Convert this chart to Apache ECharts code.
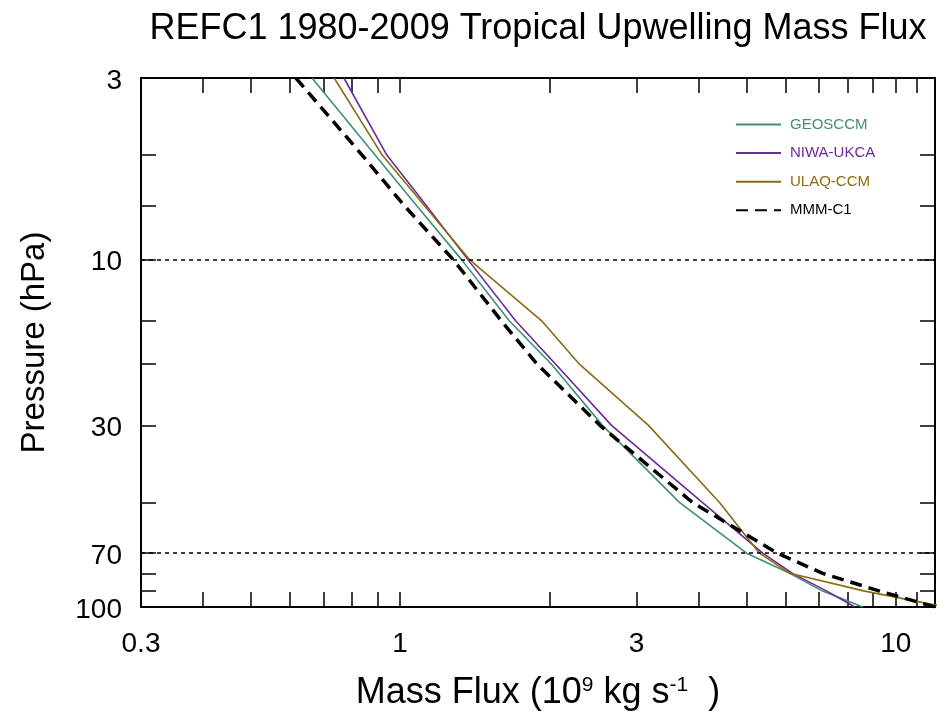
<!DOCTYPE html>
<html><head><meta charset="utf-8">
<script src="https://cdn.jsdelivr.net/npm/echarts@6/dist/echarts.min.js"></script>
<style>html,body{margin:0;padding:0;background:#fff}#c{width:939px;height:719px}</style>
</head><body><div id="c"></div>
<script>
var pressure = [3, 5, 7, 10, 15, 20, 30, 50, 70, 80, 90, 100];
var geosccm  = [0.664, 0.89, 1.08, 1.33, 1.66, 2.02, 2.56, 3.66, 5.00, 6.11, 7.12, 8.58];
var niwaukca = [0.77, 0.94, 1.13, 1.37, 1.71, 2.06, 2.67, 4.07, 5.39, 6.19, 7.26, 8.27];
var ulaqccm  = [0.736, 0.92, 1.12, 1.38, 1.93, 2.30, 3.17, 4.41, 5.31, 6.11, 8.66, 12.6];
var mmmc1    = [0.616, 0.838, 1.02, 1.28, 1.60, 1.89, 2.53, 3.89, 5.77, 7.12, 9.28, 12.0];
var xLabels = [0.3, 1, 3, 10];
var xTicks = [0.3, 0.4, 0.5, 0.6, 0.7, 0.8, 0.9, 1, 2, 3, 4, 5, 6, 7, 8, 9, 10, 11];
var yLabels = [3, 10, 30, 70, 100];
var yTicks = [3, 5, 7, 10, 15, 20, 30, 50, 70, 80, 90, 100];
var refLines = [10, 70];
var names = ['GEOSCCM', 'NIWA-UKCA', 'ULAQ-CCM', 'MMM-C1'];
var colors = ['#3f8f77', '#6a2a98', '#8c6a14', '#000000'];
var values = [geosccm, niwaukca, ulaqccm, mmmc1];

var FONT = 'Liberation Sans';
function pairs(v) { return v.map(function (x, i) { return [x, pressure[i]]; }); }

var series = values.map(function (v, i) {
  return {
    name: names[i], type: 'line', data: pairs(v), symbol: 'none', smooth: false,
    xAxisIndex: 0, yAxisIndex: 0, clip: true,
    lineStyle: { color: colors[i], width: i === 3 ? 3.5 : 1.6, type: i === 3 ? [12, 7] : 'solid' },
    itemStyle: { color: colors[i] }, z: i === 3 ? 4 : 3
  };
});
series[0].markLine = {
  silent: true, symbol: 'none', label: { show: false },
  lineStyle: { color: '#000', width: 1.6, type: [4, 4] },
  data: refLines.map(function (p) { return { yAxis: p }; })
};

function xAxisDef(pos, showLabel) {
  return {
    type: 'log', logBase: 10, min: 0.3, max: 12, position: pos,
    axisLine: { show: true, onZero: false, lineStyle: { color: '#000', width: 2 } },
    axisTick: { show: true, inside: true, length: 15, customValues: xTicks, lineStyle: { color: '#000', width: 1.5 } },
    minorTick: { show: false },
    axisLabel: { show: showLabel, customValues: xLabels, margin: 23, color: '#000', fontSize: 28, fontFamily: FONT,
      formatter: function (v) { return String(v); } },
    splitLine: { show: false }
  };
}
function yAxisDef(pos, showLabel) {
  return {
    type: 'log', logBase: 10, min: 3, max: 100, inverse: true, position: pos,
    axisLine: { show: true, onZero: false, lineStyle: { color: '#000', width: 2 } },
    axisTick: { show: true, inside: true, length: 15, customValues: yTicks, lineStyle: { color: '#000', width: 1.5 } },
    minorTick: { show: false },
    axisLabel: { show: showLabel, customValues: yLabels, margin: 19, color: '#000', fontSize: 28, fontFamily: FONT,
      formatter: function (v) { return '{v|' + v + '}'; },
      rich: { v: { fontSize: 28, fontFamily: FONT, color: '#000', padding: [6, 0, 0, 0] } } },
    splitLine: { show: false }
  };
}
var xb = xAxisDef('bottom', true);
xb.name = 'Mass Flux (10{sup|9} kg s{sup|-1}  )';
xb.nameLocation = 'middle'; xb.nameGap = 68;
xb.nameTextStyle = { color: '#000', fontSize: 36, fontFamily: FONT,
  rich: { sup: { fontSize: 21, verticalAlign: 'top', padding: [0, 0, 16, 0], color: '#000', fontFamily: FONT } } };
var yl = yAxisDef('left', true);
yl.name = 'Pressure (hPa)'; yl.nameLocation = 'middle'; yl.nameGap = 90;
yl.nameTextStyle = { color: '#000', fontSize: 33, fontFamily: FONT };

var chart = echarts.init(document.getElementById('c'), null, { renderer: 'canvas' });
chart.setOption({
  animation: false,
  backgroundColor: '#fff',
  title: { text: 'REFC1 1980-2009 Tropical Upwelling Mass Flux', left: 533, top: 6, textAlign: 'center',
    textStyle: { fontSize: 36, fontWeight: 'normal', color: '#000', fontFamily: FONT } },
  grid: { left: 141, top: 78, right: 4, bottom: 112, containLabel: false },
  legend: {
    orient: 'vertical', left: 730, top: 112, itemWidth: 45, itemHeight: 14, itemGap: 13.6,
    itemStyle: { color: 'transparent', borderColor: 'transparent', borderWidth: 0, opacity: 0 },
    textStyle: { fontSize: 15, fontFamily: FONT, padding: [0, 0, 0, 4] },
    data: names.map(function (n, i) { return { name: n, textStyle: { color: colors[i] } }; })
  },
  xAxis: [xb, xAxisDef('top', false)],
  yAxis: [yl, yAxisDef('right', false)],
  series: series
});
</script></body></html>
